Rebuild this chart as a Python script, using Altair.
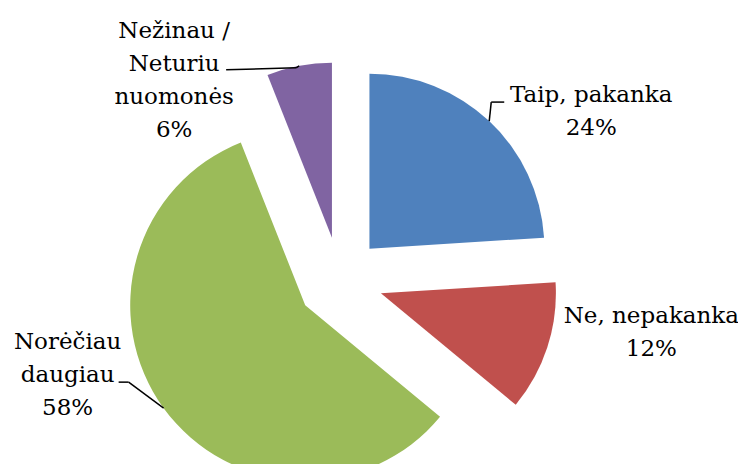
import altair as alt
import pandas as pd

# ---- data ----
categories = ["Taip, pakanka", "Ne, nepakanka", "Norėčiau daugiau", "Nežinau / Neturiu nuomonės"]
label_lines = [["Taip, pakanka"], ["Ne, nepakanka"], ["Norėčiau", "daugiau"], ["Nežinau /", "Neturiu", "nuomonės"]]
shares = [24, 12, 58, 6]

# ---- style / layout ----
colors = ["#4F81BD", "#C0504D", "#9BBB59", "#8064A2"]
CX, CY = 332, 272      # pie centre (px, chart coords)
R = 175                # radius
EXPLODE = 43           # explode distance
label_off = {
    "Taip, pakanka": (102, -19),
    "Ne, nepakanka": (104, -24),
    "Norėčiau daugiau": (-96, -59),
    "Nežinau / Neturiu nuomonės": (-125, -28),
}
leader_off = {
    "Taip, pakanka": ((2, -19), (15, -19)),
    "Norėčiau daugiau": ((-35, -26), (-45, -26)),
    "Nežinau / Neturiu nuomonės": ((-3, 2), (-73, 4)),
}

rows = []
for i, (c, lines, v) in enumerate(zip(categories, label_lines, shares)):
    lo = label_off[c]
    ld = leader_off.get(c)
    rows.append({
        "cat": c, "value": v, "idx": i,
        "label": "\n".join(lines + [f"{v}%"]),
        "ldx": lo[0], "ldy": lo[1],
        "has_leader": ld is not None,
        "ex": ld[0][0] if ld else 0, "ey": ld[0][1] if ld else 0,
        "fx": ld[1][0] if ld else 0, "fy": ld[1][1] if ld else 0,
    })
df = pd.DataFrame(rows)

base = (
    alt.Chart(df)
    .transform_joinaggregate(total="sum(value)")
    .transform_window(cum="sum(value)", sort=[alt.SortField("idx")], frame=[None, 0])
    .transform_calculate(t1="2*PI*datum.cum/datum.total")
    .transform_calculate(t0="2*PI*(datum.cum-datum.value)/datum.total")
    .transform_calculate(mid="(datum.t0+datum.t1)/2")
    .transform_calculate(cx=f"{CX}+{EXPLODE}*sin(datum.mid)")
    .transform_calculate(cy=f"{CY}-{EXPLODE}*cos(datum.mid)")
    .transform_calculate(ox=f"{CX}+{EXPLODE + R}*sin(datum.mid)")
    .transform_calculate(oy=f"{CY}-{EXPLODE + R}*cos(datum.mid)")
    .transform_calculate(lx="datum.ox+datum.ldx", ly="datum.oy+datum.ldy")
    .transform_calculate(e1x="datum.ox+datum.ex", e1y="datum.oy+datum.ey",
                         e2x="datum.ox+datum.fx", e2y="datum.oy+datum.fy")
)

arcs = base.mark_arc(radius=R).encode(
    theta=alt.Theta("t0:Q", scale=None, stack=False),
    theta2="t1:Q",
    x=alt.X("cx:Q", scale=None),
    y=alt.Y("cy:Q", scale=None),
    color=alt.Color("cat:N", scale=alt.Scale(domain=categories, range=colors), legend=None),
)

leaders = base.transform_filter("datum.has_leader")
lead1 = leaders.mark_rule(color="black", strokeWidth=1.5).encode(
    x=alt.X("ox:Q", scale=None), y=alt.Y("oy:Q", scale=None),
    x2="e1x:Q", y2="e1y:Q",
)
lead2 = leaders.mark_rule(color="black", strokeWidth=1.5).encode(
    x=alt.X("e1x:Q", scale=None), y=alt.Y("e1y:Q", scale=None),
    x2="e2x:Q", y2="e2y:Q",
)

labels = base.mark_text(
    font="DejaVu Serif",
    fontSize=23, lineBreak="\n", lineHeight=33,
    align="center", baseline="alphabetic", color="black",
).encode(
    x=alt.X("lx:Q", scale=None),
    y=alt.Y("ly:Q", scale=None),
    text="label:N",
)

chart = (
    alt.layer(arcs, lead1, lead2, labels)
    .properties(width=730, height=456, padding=0, autosize=alt.AutoSizeParams(type="none"), background="white")
    .configure_view(stroke=None)
)

chart.save("out.html", embed_options={"renderer": "svg", "actions": False})
